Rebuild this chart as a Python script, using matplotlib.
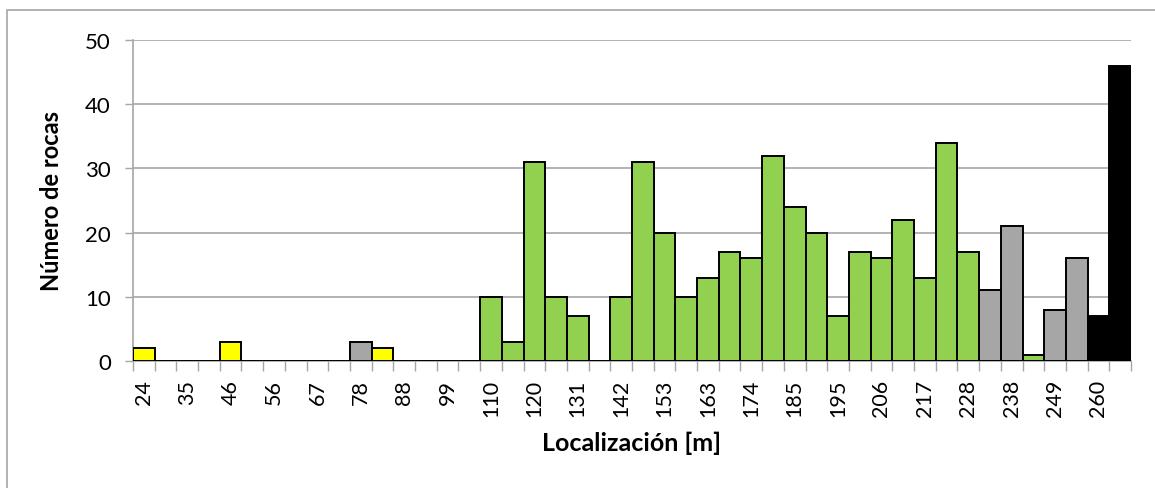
import matplotlib.pyplot as plt
import numpy as np
from matplotlib.patches import Rectangle

plt.rcParams['font.family'] = ['Lato', 'DejaVu Sans']

# rock counts per location bin (46 bins)
counts = [2, 0, 0, 0, 3, 0, 0, 0, 0, 0, 3, 2, 0, 0, 0, 0,
          10, 3, 31, 10, 7, 0, 10, 31, 20, 10, 13, 17, 16, 32, 24, 20,
          7, 17, 16, 22, 13, 34, 17, 11, 21, 1, 8, 16, 7, 46]
# colour class of each bin
classes = ['Y', 'Y', 'Y', 'Y', 'Y', 'Y', 'Y', 'Y', 'Y', 'Y', 'G', 'Y', 'Y', 'Y', 'Y', 'Y',
           'V', 'V', 'V', 'V', 'V', 'V', 'V', 'V', 'V', 'V', 'V', 'V', 'V', 'V', 'V', 'V',
           'V', 'V', 'V', 'V', 'V', 'V', 'V', 'G', 'G', 'V', 'G', 'G', 'K', 'K']
# labels shown on every second bin
tick_labels = ['24', '35', '46', '56', '67', '78', '88', '99', '110', '120', '131', '142',
               '153', '163', '174', '185', '195', '206', '217', '228', '238', '249', '260']

palette = {'Y': '#FFFF00', 'G': '#A6A6A6', 'V': '#92D050', 'K': '#000000'}
colors = [palette[c] for c in classes]

fig = plt.figure(figsize=(11.55, 4.89), dpi=100)
W, H = 1155, 489
ax = fig.add_axes([133 / W, (H - 362) / H, (1131 - 133) / W, (362 - 41) / H])

x = np.arange(len(counts))
ax.bar(x, counts, width=1.0, color=colors, edgecolor='black', linewidth=1.4, zorder=3)

ax.set_xlim(-0.5, len(counts) - 0.5)
ax.set_ylim(0, 50)
ax.set_yticks(range(0, 51, 10))
ax.yaxis.grid(True, color='#A6A6A6', linewidth=1.2, zorder=0)

ax.set_xticks(x[::2])
ax.set_xticklabels(tick_labels, rotation=90)
ax.set_xticks(np.arange(-0.5, len(counts)), minor=True)
ax.tick_params(axis='x', which='major', length=0, pad=13, labelsize=15.5)
ax.tick_params(axis='x', which='minor', length=7, width=1, color='#A6A6A6')
ax.tick_params(axis='y', length=6, width=1, color='#A6A6A6', labelsize=16, pad=10)

for side in ['top', 'right']:
    ax.spines[side].set_visible(False)
for side in ['left', 'bottom']:
    ax.spines[side].set_color('#A6A6A6')
    ax.spines[side].set_linewidth(1.2)

ax.set_xlabel('Localización [m]', fontsize=18, fontweight='bold', labelpad=10)
ax.set_ylabel('Número de rocas', fontsize=17, fontweight='bold', labelpad=16)

# chart area border
fig.patches.append(Rectangle((7 / W, -0.1), 1.2, (H - 11) / H + 0.1,
                             transform=fig.transFigure, fill=False,
                             edgecolor='#A6A6A6', linewidth=1.2))

fig.savefig('out.png', dpi=100)
